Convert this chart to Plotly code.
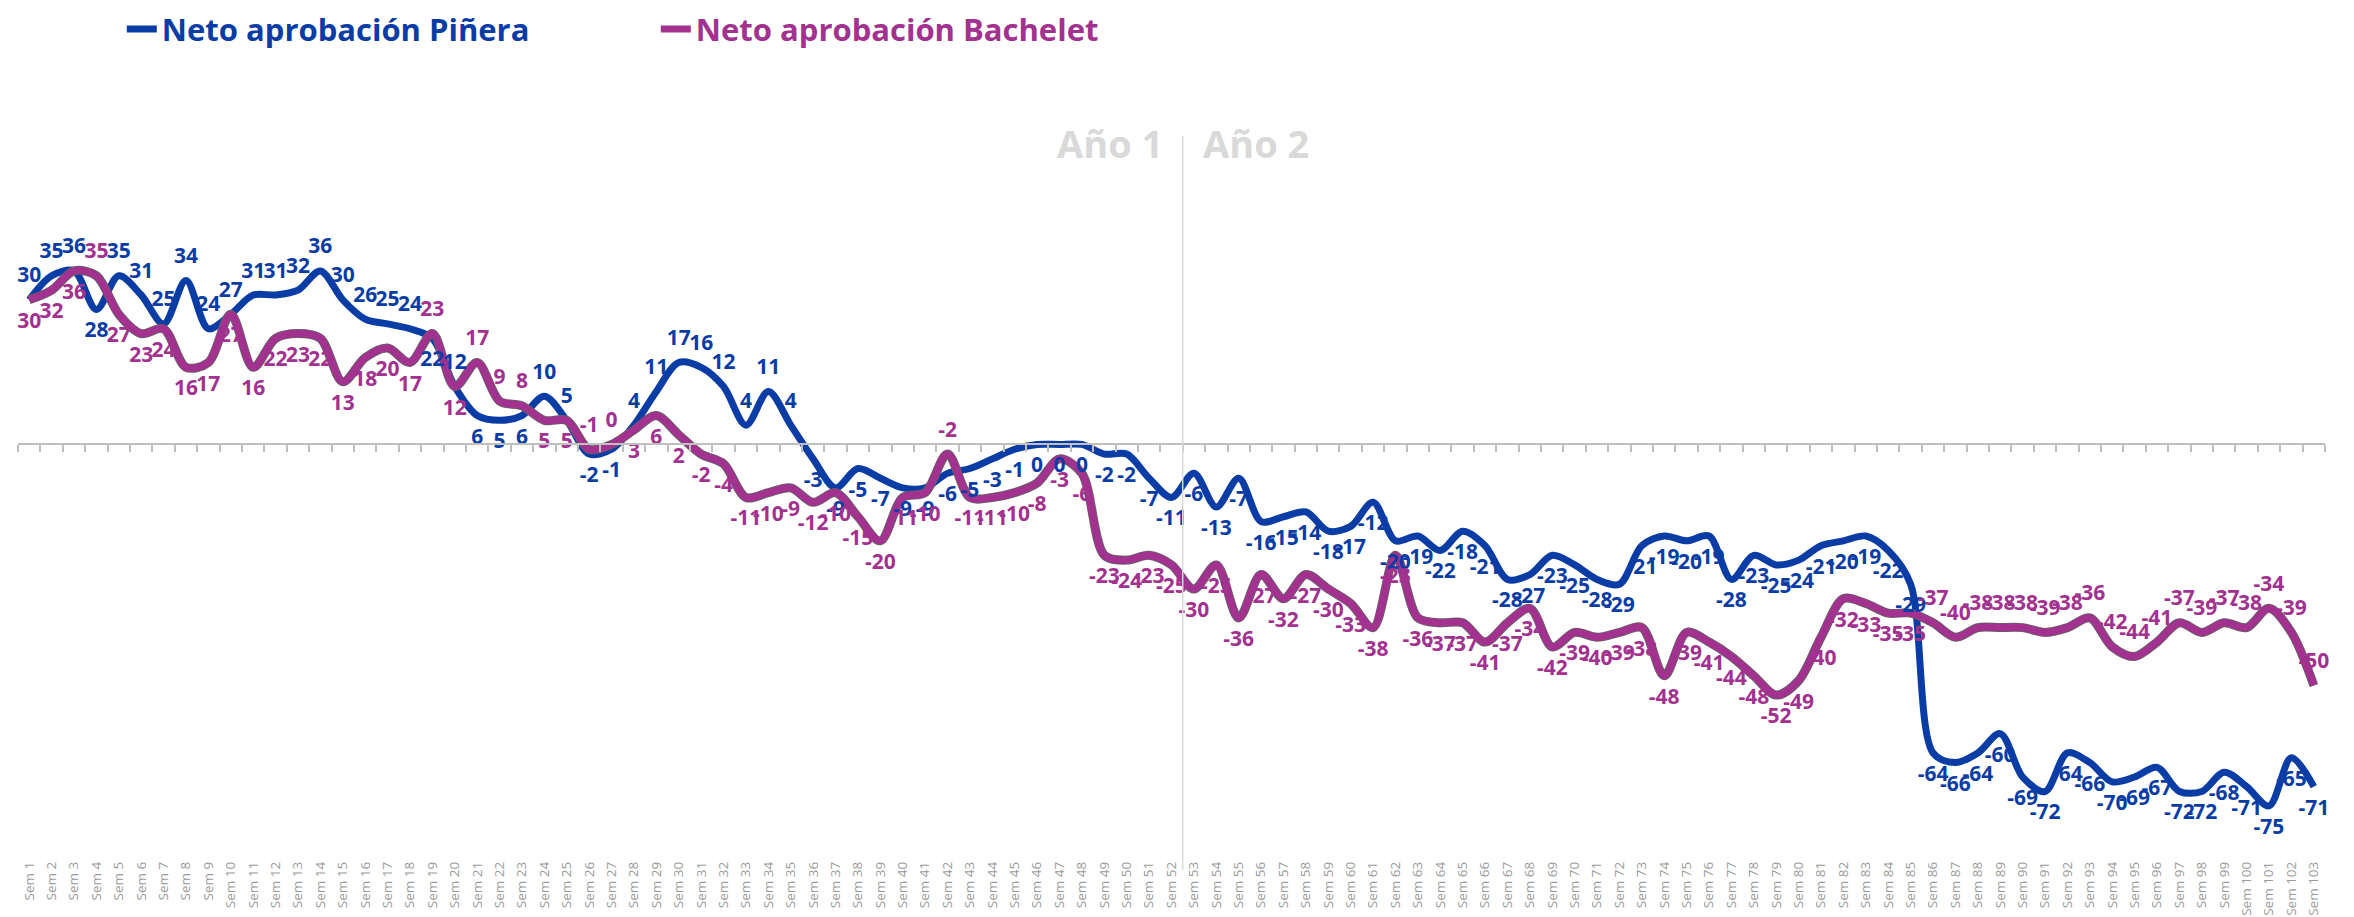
import plotly.graph_objects as go

weeks = [f"Sem {i}" for i in range(1, 104)]

pinera = [30, 35, 36, 28, 35, 31, 25, 34, 24, 27,
          31, 31, 32, 36, 30, 26, 25, 24, 22, 12,
          6, 5, 6, 10, 5, -2, -1, 4, 11, 17,
          16, 12, 4, 11, 4, -3, -9, -5, -7, -9,
          -9, -6, -5, -3, -1, 0, 0, 0, -2, -2,
          -7, -11, -6, -13, -7, -16, -15, -14, -18, -17,
          -12, -20, -19, -22, -18, -21, -28, -27, -23, -25,
          -28, -29, -21, -19, -20, -19, -28, -23, -25, -24,
          -21, -20, -19, -22, -29, -64, -66, -64, -60, -69,
          -72, -64, -66, -70, -69, -67, -72, -72, -68, -71,
          -75, -65, -71]

bachelet = [30, 32, 36, 35, 27, 23, 24, 16, 17, 27,
            16, 22, 23, 22, 13, 18, 20, 17, 23, 12,
            17, 9, 8, 5, 5, -1, 0, 3, 6, 2,
            -2, -4, -11, -10, -9, -12, -10, -15, -20, -11,
            -10, -2, -11, -11, -10, -8, -3, -6, -23, -24,
            -23, -25, -30, -25, -36, -27, -32, -27, -30, -33,
            -38, -23, -36, -37, -37, -41, -37, -34, -42, -39,
            -40, -39, -38, -48, -39, -41, -44, -48, -52, -49,
            -40, -32, -33, -35, -35, -37, -40, -38, -38, -38,
            -39, -38, -36, -42, -44, -41, -37, -39, -37, -38,
            -34, -39, -50]

name_p = "Neto aprobación Piñera"
name_b = "Neto aprobación Bachelet"

BLUE = "#0A3CA6"
MAG = "#A2318F"

n = len(weeks)
pos_p = ["top center" if (pinera[i] >= bachelet[i] and i < 35) else "bottom center" for i in range(n)]
pos_b = ["top center" if bachelet[i] > pinera[i] else "bottom center" for i in range(n)]

ymin, ymax = -85.8, 78.1
zero_pos = (0 - ymin) / (ymax - ymin)

fig = go.Figure()
fig.add_trace(go.Scatter(
    x=weeks, y=pinera, mode="lines",
    line=dict(color=BLUE, width=7, shape="spline", smoothing=0.9),
    name=f'<span style="color:{BLUE}">{name_p}</span>', hoverinfo="skip"))
fig.add_trace(go.Scatter(
    x=weeks, y=bachelet, mode="lines",
    line=dict(color="#6d5a6b", width=9, shape="spline", smoothing=0.9),
    showlegend=False, hoverinfo="skip"))
fig.add_trace(go.Scatter(
    x=weeks, y=bachelet, mode="lines",
    line=dict(color=MAG, width=7, shape="spline", smoothing=0.9),
    name=f'<span style="color:{MAG}">{name_b}</span>', hoverinfo="skip"))
fig.add_trace(go.Scatter(
    x=weeks, y=pinera, mode="markers+text", xaxis="x2", text=[str(v) for v in pinera],
    textposition=pos_p, marker=dict(size=18, opacity=0), cliponaxis=False,
    textfont=dict(family="Open Sans", size=21, color=BLUE, weight="bold"),
    showlegend=False, hoverinfo="skip"))
fig.add_trace(go.Scatter(
    x=weeks, y=bachelet, mode="markers+text", xaxis="x2", text=[str(v) for v in bachelet],
    textposition=pos_b, marker=dict(size=18, opacity=0), cliponaxis=False,
    textfont=dict(family="Open Sans", size=21, color=MAG, weight="bold"),
    showlegend=False, hoverinfo="skip"))

fig.update_layout(
    width=2354, height=917,
    margin=dict(l=10, r=37, t=60, b=67, autoexpand=False),
    paper_bgcolor="white", plot_bgcolor="white",
    showlegend=True,
    legend=dict(orientation="h", x=0.045, xanchor="left", y=1.049, yanchor="middle",
                font=dict(family="Open Sans", size=31, weight="bold"),
                entrywidth=489, entrywidthmode="pixels", itemwidth=30,
                bgcolor="rgba(0,0,0,0)"),
    xaxis=dict(type="category", range=[-0.5, n - 0.5], tickangle=-90,
               tickfont=dict(family="Open Sans", size=13.5, color="#9a9a9a"),
               showgrid=False, showline=False, ticks="", zeroline=False,
               automargin=False, categoryorder="array", categoryarray=weeks),
    xaxis2=dict(type="category", range=[-0.5, n - 0.5], overlaying="x",
                anchor="free", position=zero_pos, side="bottom",
                categoryorder="array", categoryarray=weeks,
                showline=True, linecolor="#BFBFBF", linewidth=1.5,
                ticks="outside", tickson="boundaries", ticklen=7,
                tickcolor="#BFBFBF", tickwidth=1.5,
                showticklabels=False, showgrid=False, zeroline=False),
    yaxis=dict(visible=False, range=[ymin, ymax], showgrid=False, zeroline=False),
)

fig.add_shape(type="line", xref="x", yref="paper", x0=51.5, x1=51.5,
              y0=-0.015, y1=0.914, line=dict(color="#D9D9D9", width=1.5))
fig.add_annotation(x=51.5, xref="x", y=0.905, yref="paper", text="Año 1",
                   xanchor="right", yanchor="middle", xshift=-18, showarrow=False,
                   font=dict(family="Open Sans", size=38, color="#D9D9D9", weight="bold"))
fig.add_annotation(x=51.5, xref="x", y=0.905, yref="paper", text="Año 2",
                   xanchor="left", yanchor="middle", xshift=18, showarrow=False,
                   font=dict(family="Open Sans", size=38, color="#D9D9D9", weight="bold"))

fig.write_html("out.html")
